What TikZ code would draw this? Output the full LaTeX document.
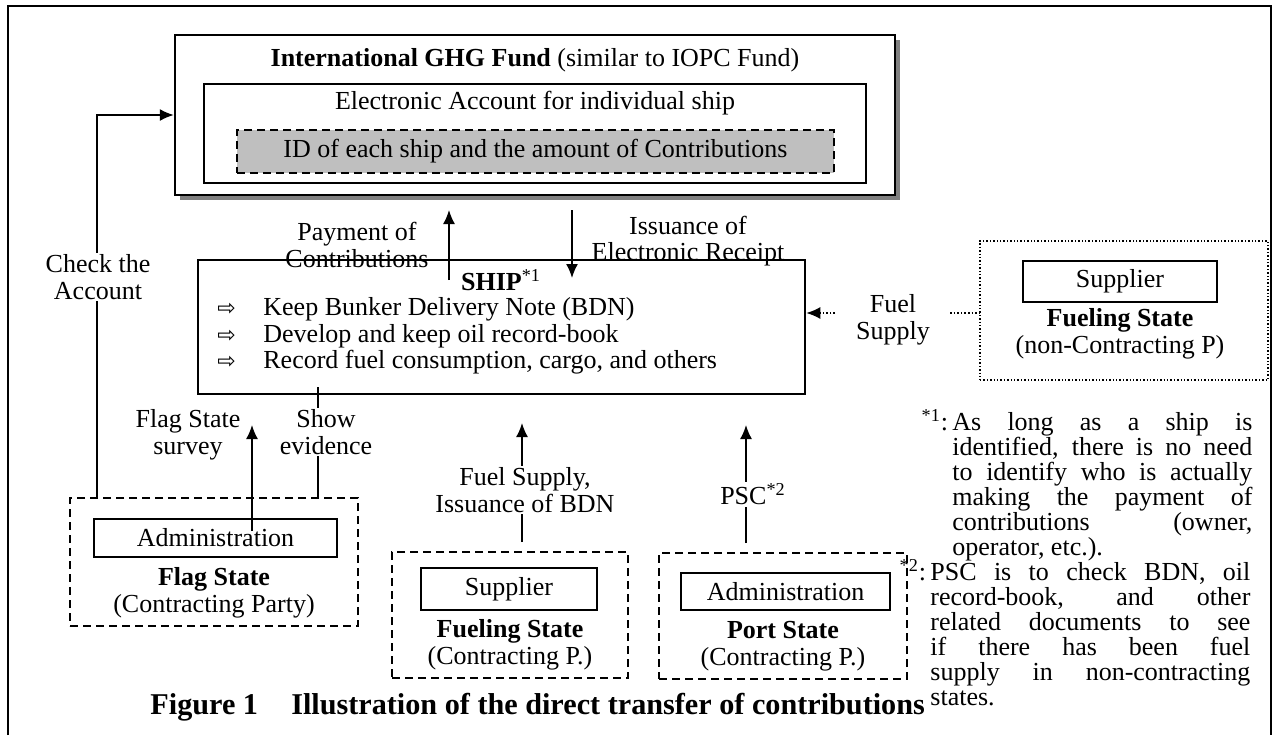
\documentclass[tikz,border=0pt]{standalone}
\usepackage{fontspec}
\setmainfont{Liberation Serif}
\newfontfamily\arrowfont{DejaVu Sans}
\usetikzlibrary{arrows.meta,shadows}

\newcommand{\bul}{\makebox[23pt][l]{\arrowfont\fontsize{11}{11}\selectfont ⇨}}

\begin{document}
\begin{tikzpicture}[x=0.5pt,y=-0.5pt,font=\fontsize{13}{13.3}\selectfont]
		\tikzstyle{box} = [draw, line width=0.65pt, inner sep=0pt]
		\tikzstyle{state box} = [draw, dash pattern=on 4pt off 2.5pt, line width=0.8pt, inner sep=0pt]
		\tikzstyle{flow} = [line width=0.8pt, -{Latex[length=7pt,width=6pt]}]
		\tikzstyle{tag} = [align=center, inner sep=1pt]
		\tikzstyle{gap} = [tag, fill=white]
		\tikzstyle{note} = [anchor=north west, inner sep=0pt, align=justify, font=\fontsize{13}{12.55}\selectfont]

		\useasboundingbox (0,0) rectangle (1277,735);
		\draw[line width=1pt] (8,735) -- (8,6) -- (1271,6) -- (1271,735);

		% fund
		\node[box, line width=1.2pt, fill=white, minimum width=360pt, minimum height=80pt,
			drop shadow={shadow xshift=2.5pt, shadow yshift=-2.5pt, fill=black!50, opacity=1}] (fund) at (535,115) {};
		\node[tag] (fundname) at (535,60) {\textbf{International GHG Fund} (similar to IOPC Fund)};
		\node[box, minimum width=331pt, minimum height=49.5pt] (account) at (535,133.5) {};
		\node[tag] (accname) at (535,103) {Electronic Account for individual ship};
		\node[state box, line width=0.7pt, fill=black!25, minimum width=298.5pt, minimum height=21.5pt] (shipid) at (535.5,151.5)
			{ID of each ship and the amount of Contributions};

		% ship
		\node[box, line width=1.3pt, minimum width=303.5pt, minimum height=67pt] (ship) at (501.5,327) {};
		\node[tag] (shipname) at (501,280) {\textbf{SHIP}\textsuperscript{*1}};
		\node[anchor=west, align=left, inner sep=0pt] (tasks) at (217,336)
			{\bul Keep Bunker Delivery Note (BDN)\\ \bul Develop and keep oil record-book\\ \bul Record fuel consumption, cargo, and others};

		% states
		\node[state box, minimum width=144pt, minimum height=64pt] (flag) at (214,562) {};
		\node[box, minimum width=121.5pt, minimum height=19pt] (admin1) at (215.5,538) {Administration};
		\node[tag] (flagname) at (214,593) {\textbf{Flag State}\\(Contracting Party)};

		\node[state box, minimum width=118pt, minimum height=63pt] (fueling) at (510,615) {};
		\node[box, minimum width=88pt, minimum height=21pt] (supplier1) at (509,589) {Supplier};
		\node[tag] (fuelname) at (510,645) {\textbf{Fueling State}\\(Contracting P.)};

		\node[state box, minimum width=124pt, minimum height=63pt] (port) at (783,616) {};
		\node[box, minimum width=104.5pt, minimum height=18.5pt] (admin2) at (785.5,591.5) {Administration};
		\node[tag] (portname) at (783,646) {\textbf{Port State}\\(Contracting P.)};

		\node[draw, densely dotted, line width=0.7pt, minimum width=144pt, minimum height=69.5pt] (noncon) at (1124,310.5) {};
		\node[box, minimum width=97pt, minimum height=20.5pt] (supplier2) at (1120,281.5) {Supplier};
		\node[tag] (nonname) at (1120,334) {\textbf{Fueling State}\\(non-Contracting P)};

		% connectors
		\coordinate (pay) at (449,280);
		\coordinate (rcpt) at (572,210);
		\coordinate (chk) at (97,498);
		\coordinate (svy) at (252,531);
		\coordinate (evd) at (318,387);
		\coordinate (fsup) at (522,542);
		\coordinate (psc) at (746,543);
		\coordinate (fs1) at (835,313);
		\coordinate (fs2) at (950,313);

		\draw[flow] (pay) -- ++(0,-70);
		\draw[flow] (rcpt) -- ++(0,68);
		\draw[flow] (chk) |- (fund.west);
		\draw[flow] (svy) -- ++(0,-106);
		\draw[line width=0.8pt] (evd) -- (evd |- flag.north);
		\draw[flow] (fsup) -- ++(0,-119);
		\draw[flow] (psc) -- ++(0,-118);
		\draw[flow, densely dotted] (fs1) -- (ship.east |- fs1);
		\draw[line width=0.8pt, densely dotted] (fs2) -- (noncon.west |- fs2);

		% labels
		\node[tag] (paylbl) at (357,245) {Payment of\\Contributions};
		\node[tag] (rcptlbl) at (688,241) {Issuance of\\Electronic Receipt};
		\node[gap] (chklbl) at (98,277) {Check the\\Account};
		\node[tag] (svylbl) at (188,435) {Flag State\\survey};
		\node[gap] (evdlbl) at (326,432) {Show\\evidence};
		\node[gap] (fsuplbl) at (525,490) {Fuel Supply,\\Issuance of BDN};
		\node[gap] (psclbl) at (753,494) {PSC\textsuperscript{*2}};
		\node[tag] (fslbl) at (893,320) {Fuel\\Supply};

		% notes
		\node[note, text width=150pt] (note1) at (952,409)
			{\llap{\textsuperscript{*1}:\,}As long as a ship is\linebreak identified, there is no need\linebreak to identify who is actually\linebreak making the payment of\linebreak contributions (owner,\linebreak operator, etc.).};
		\node[note, text width=160pt] (note2) at (930,559)
			{\llap{\textsuperscript{*2}:\,}PSC is to check BDN, oil\linebreak record-book, and other\linebreak related documents to see\linebreak if there has been fuel\linebreak supply in non-contracting\linebreak states.};

		\node[anchor=west, inner sep=0pt, font=\fontsize{15.1}{17}\selectfont\bfseries] (caption) at (150,707)
			{Figure 1\hspace{1.1em}Illustration of the direct transfer of contributions};
	\end{tikzpicture}
\end{document}
